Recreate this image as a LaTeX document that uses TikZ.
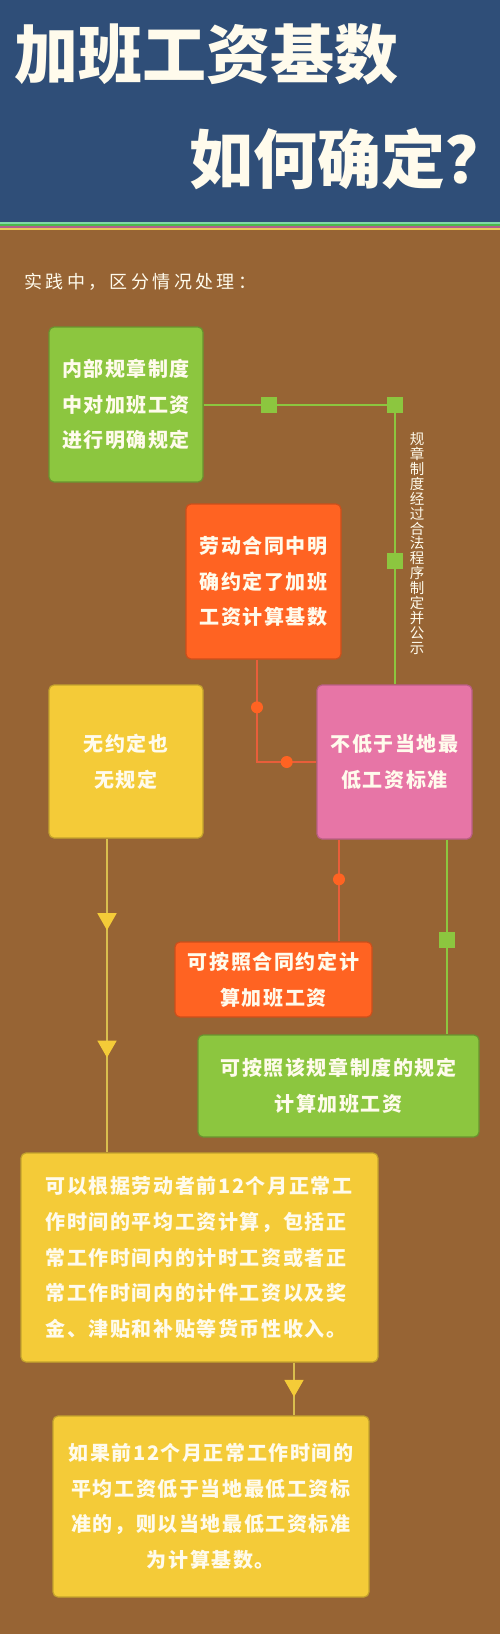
\documentclass[tikz,border=0pt]{standalone}
\usepackage{fontspec}
\usetikzlibrary{arrows.meta,decorations.markings}
\newfontfamily\cjk{Noto Sans CJK SC}
\newfontfamily\cjkwide{Noto Sans CJK SC}[LetterSpace=19]
\newfontfamily\cjkbox{Noto Sans CJK SC}[LetterSpace=8]
\definecolor{bgbrown}{HTML}{976434}
\definecolor{hblue}{HTML}{2F4E78}
\definecolor{txtwhite}{HTML}{FFFBEC}
\definecolor{cgreen}{HTML}{8CC63F}
\definecolor{corange}{HTML}{FF6322}
\definecolor{cpink}{HTML}{E775A6}
\definecolor{cyellow}{HTML}{F4CB38}
\definecolor{lred}{HTML}{E85E3A}
\definecolor{lyellow}{HTML}{D9BE4E}

\begin{document}
\begin{tikzpicture}[x=1pt, y=-1pt, every node/.style={text=txtwhite},
  box/.style={rounded corners=5pt, inner sep=0pt, line width=1.2pt, align=center,
    font=\cjkbox\bfseries\fontsize{20}{35.7}\selectfont},
  gline/.style={draw=cgreen, line width=2pt},
  rline/.style={draw=lred, line width=2pt},
  yline/.style={draw=lyellow, line width=1.6pt},
  sq/.style={fill=cgreen, minimum size=16pt, inner sep=0pt},
  dot/.style={circle, fill=corange, minimum size=12pt, inner sep=0pt},
  tipy/.tip={Triangle[width=19pt, length=17pt, color=cyellow]}]
\useasboundingbox (0,0) rectangle (500,1634);
\fill[bgbrown] (0,0) rectangle (500,1634);
\fill[hblue] (0,0) rectangle (500,222);
\fill[green!40!teal!50!white] (0,222) rectangle (500,223.5);
\fill[green!60!black!70!white] (0,223.5) rectangle (500,225.5);
\fill[magenta!60!black!80!white] (0,225.5) rectangle (500,228);
\fill[yellow!50!brown!80!white] (0,228) rectangle (500,230);
\node[anchor=west, inner sep=0pt, font=\cjk\bfseries\fontsize{64}{64}\selectfont] (T1) at (14,54.5) {加班工资基数};
\node[anchor=west, inner sep=0pt, font=\cjk\bfseries\fontsize{64}{64}\selectfont] (T2) at (189,158.5) {如何确定？};
\node[anchor=west, inner sep=0pt, font=\cjkwide\fontsize{18}{18}\selectfont] (S) at (24,282) {实践中，区分情况处理：};
\node[box, fill=cgreen, draw=cgreen!75!black, minimum width=154pt, minimum height=155pt] (G1) at (126,404.5) {内部规章制度\\中对加班工资\\进行明确规定};
\node[box, fill=corange, draw=corange!80!black, minimum width=155pt, minimum height=155pt] (O1) at (263.5,581.5) {劳动合同中明\\确约定了加班\\工资计算基数};
\node[box, fill=cpink, draw=cpink!80!black, minimum width=155pt, minimum height=154pt] (P) at (394.5,762) {不低于当地最\\低工资标准};
\node[box, fill=cyellow, draw=cyellow!80!black, minimum width=154pt, minimum height=153pt] (Y1) at (126,761.5) {无约定也\\无规定};
\node[box, fill=corange, draw=corange!80!black, minimum width=197pt, minimum height=75pt] (O2) at (273.5,979.5) {可按照合同约定计\\算加班工资};
\node[box, fill=cgreen, draw=cgreen!75!black, minimum width=281pt, minimum height=102pt] (G2) at (338.5,1086) {可按照该规章制度的规定\\计算加班工资};
\node[box, fill=cyellow, draw=cyellow!80!black, minimum width=357pt, minimum height=209pt, text width=308pt, align=left] (Y3) at (199.5,1257.5) {可以根据劳动者前12个月正常工\\作时间的平均工资计算，包括正\\常工作时间内的计时工资或者正\\常工作时间内的计件工资以及奖\\金、津贴和补贴等货币性收入。};
\node[box, fill=cyellow, draw=cyellow!80!black, minimum width=316pt, minimum height=181pt] (Y4) at (211,1506.5) {如果前12个月正常工作时间的\\平均工资低于当地最低工资标\\准的，则以当地最低工资标准\\为计算基数。};
\node[inner sep=0pt, align=center, font=\cjk\fontsize{14.5}{14.9}\selectfont] (L) at (417,543.5) {规\\章\\制\\度\\经\\过\\合\\法\\程\\序\\制\\定\\并\\公\\示};
\draw[gline] (G1.east) -| (P.north) node[sq, pos=0.17] (s1) {} node[sq, pos=0.5] (s2) {} node[sq, pos=0.78] (s3) {};
\draw[rline] ([xshift=-6.5pt]O1.south) |- (P.west) node[dot, pos=0.233] (d1) {} node[dot, pos=0.75] (d2) {};
\coordinate (r1) at ([xshift=-55.5pt]P.south);
\draw[rline] (r1) -- (r1 |- O2.north) node[dot, pos=0.39] (d3) {};
\coordinate (g1) at ([xshift=52.5pt]P.south);
\draw[gline] (g1) -- (g1 |- G2.north) node[sq, pos=0.515] (s4) {};
\coordinate (y1) at ([xshift=-19pt]Y1.south);
\draw[yline, postaction={decorate}, decoration={markings, mark=at position 0.292 with {\arrow{tipy}}, mark=at position 0.698 with {\arrow{tipy}}}] (y1) -- (y1 |- Y3.north);
\coordinate (y3) at ([xshift=94.5pt]Y3.south);
\draw[yline, postaction={decorate}, decoration={markings, mark=at position 0.65 with {\arrow{tipy}}}] (y3) -- (y3 |- Y4.north);
\end{tikzpicture}
\end{document}
